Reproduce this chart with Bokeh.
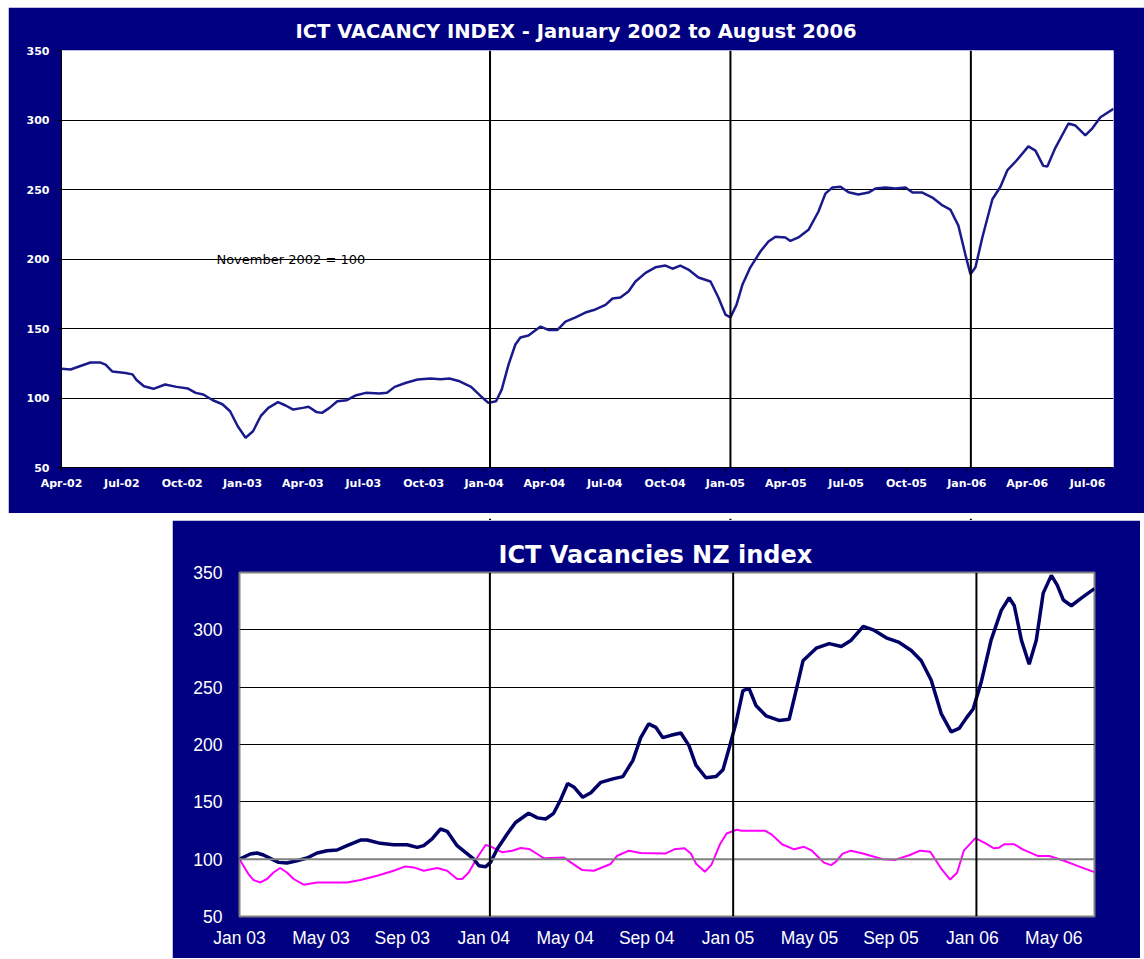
from bokeh.plotting import figure
from bokeh.models import ColumnDataSource, FixedTicker, Label, Span, Spacer
from bokeh.layouts import column, row
from bokeh.embed import file_html
from bokeh.resources import INLINE

# ---------------- data (x = months since January 2002) ----------------
top_title = "ICT VACANCY INDEX  -  January 2002 to August 2006"
top_note = "November 2002 = 100"
top_month = [3.00, 3.45, 3.94, 4.44, 4.94, 5.19, 5.53, 6.18, 6.53, 6.73,
             7.10, 7.57, 8.15, 8.72, 9.29, 9.67, 10.05, 10.52, 11.00, 11.38,
             11.76, 12.15, 12.52, 12.90, 13.28, 13.76, 14.14, 14.52, 14.99, 15.28,
             15.66, 15.95, 16.32, 16.71, 17.18, 17.65, 18.13, 18.80, 19.18, 19.56,
             20.13, 20.70, 21.34, 21.84, 22.28, 22.79, 23.36, 23.84, 24.22, 24.60,
             24.88, 25.22, 25.56, 25.81, 26.21, 26.81, 27.20, 27.65, 28.05, 28.55,
             29.04, 29.54, 30.04, 30.39, 30.78, 31.18, 31.53, 32.03, 32.52, 33.02,
             33.37, 33.76, 34.16, 34.66, 35.26, 35.65, 36.00, 36.25, 36.55, 36.85,
             37.24, 37.74, 38.14, 38.49, 38.98, 39.23, 39.63, 40.13, 40.62, 40.97,
             41.32, 41.72, 42.12, 42.61, 43.11, 43.46, 43.95, 44.45, 44.95, 45.30,
             45.79, 46.29, 46.79, 47.18, 47.58, 47.93, 48.18, 48.43, 48.77, 49.27,
             49.67, 50.02, 50.42, 51.06, 51.41, 51.80, 52.00, 52.40, 53.05, 53.40,
             53.89, 54.24, 54.64, 55.29]
top_index = [121, 120.5, 123, 125.5, 125.5, 124, 119, 118, 117, 113,
             108.5, 106.6, 109.7, 108, 106.8, 103.7, 102.5, 98.4, 95.5, 90.5,
             79.7, 71.4, 76.1, 86.9, 92.9, 97, 94.6, 91.7, 92.9, 93.7,
             90, 89.3, 92.9, 97.7, 98.4, 102, 103.7, 103.2, 103.7, 108,
             111, 113.3, 114, 113.5, 114, 112, 108, 101.3, 96.5, 97.7,
             106, 124, 138.5, 143.5, 145, 151.4, 149, 149, 155, 158,
             161.5, 163.7, 167, 171.6, 172.3, 176.6, 183.8, 190, 194, 195.3,
             193, 195.3, 192.4, 186.7, 183.8, 172.3, 160, 158, 167, 181.7,
             194, 205.4, 212.6, 216, 215.5, 213, 215.5, 221, 234, 247,
             251.5, 252, 248, 246.4, 247.8, 250.7, 251.4, 250.7, 251.4, 247.8,
             247.8, 244.2, 238.5, 235.6, 224, 203, 189, 194, 215.5, 243,
             252, 264, 270, 281, 278, 267, 266.5, 280, 297.5, 296,
             289, 294, 302, 308]
top_tick_months = [3, 6, 9, 12, 15, 18, 21, 24, 27, 30, 33, 36, 39, 42, 45, 48, 51, 54]
top_tick_labels = ["Apr-02", "Jul-02", "Oct-02", "Jan-03", "Apr-03", "Jul-03",
                   "Oct-03", "Jan-04", "Apr-04", "Jul-04", "Oct-04", "Jan-05",
                   "Apr-05", "Jul-05", "Oct-05", "Jan-06", "Apr-06", "Jul-06"]

nz_title = "ICT Vacancies NZ index"
nz_month = [12.00, 12.53, 12.86, 13.18, 13.51, 13.92, 14.33, 14.82, 15.32, 15.81,
            16.30, 16.79, 17.28, 17.94, 18.27, 18.92, 19.57, 20.23, 20.73, 21.05,
            21.46, 21.87, 22.20, 22.69, 23.10, 23.51, 23.76, 24.09, 24.33, 24.66,
            25.15, 25.56, 26.20, 26.64, 27.04, 27.43, 27.78, 28.12, 28.42, 28.86,
            29.26, 29.75, 30.34, 30.83, 31.32, 31.71, 32.10, 32.45, 32.79, 33.19,
            33.68, 34.08, 34.42, 34.91, 35.41, 35.75, 36.04, 36.39, 36.73, 37.03,
            37.37, 37.86, 38.50, 39.00, 39.34, 39.68, 40.33, 40.97, 41.56, 42.05,
            42.64, 43.13, 43.77, 44.41, 45.00, 45.49, 45.98, 46.47, 46.96, 47.35,
            47.70, 48.04, 48.43, 48.92, 49.42, 49.81, 50.06, 50.41, 50.79, 51.14,
            51.48, 51.88, 52.17, 52.47, 52.86, 53.35, 54.00]
nz_ict = [100, 104.5, 105.4, 103.6, 100.7, 97.2, 96.6, 98.6, 101, 105.4,
          107.4, 108, 111.8, 116.7, 116.7, 113.8, 112.6, 112.6, 110.3, 111.8,
          117.6, 126.3, 124.3, 111.8, 106, 100.1, 94.3, 93.4, 97.2, 108.9,
          122, 132, 140, 136, 135, 140, 152, 166, 163, 154,
          158, 167, 170, 172, 186, 206, 218, 215, 206, 208,
          210, 199, 182, 171, 172, 178, 196, 219, 247, 249,
          234, 225, 221, 222, 247, 273, 284, 288, 285.5, 291,
          303, 300, 293, 289, 282, 273, 256, 227, 211, 214,
          223, 231, 254, 291, 317, 328, 321, 291, 270, 291,
          332, 347.5, 339, 326, 321, 327.6, 336]
nz_all_month = [12.00, 12.44, 12.69, 13.02, 13.35, 13.67, 14.00, 14.33, 14.66, 15.15,
                15.81, 17.28, 17.94, 18.76, 19.57, 20.15, 20.56, 21.05, 21.71, 22.20,
                22.69, 22.94, 23.26, 23.68, 24.09, 24.33, 24.91, 25.40, 25.81, 26.22,
                26.63, 26.95, 27.94, 28.27, 28.84, 29.41, 30.23, 30.56, 31.13, 31.71,
                32.94, 33.36, 33.86, 34.17, 34.43, 34.86, 35.18, 35.60, 35.93, 36.42,
                36.67, 37.81, 38.15, 38.65, 39.24, 39.73, 40.12, 40.71, 41.06, 41.30,
                41.63, 42.04, 42.62, 43.61, 44.19, 44.93, 45.43, 45.93, 46.50, 46.91,
                47.25, 47.58, 48.15, 48.65, 49.06, 49.31, 49.56, 50.06, 50.47, 51.21,
                51.78, 52.54, 53.19, 54.00]
nz_all = [100, 87, 81.8, 79.7, 82.7, 88.4, 92.3, 88.4, 82.7, 77.7,
          79.7, 79.7, 81.8, 85.5, 89.9, 93.7, 92.8, 89.9, 92.3, 89.9,
          82.7, 82.7, 88.4, 101.5, 112.4, 111.2, 106, 107.4, 109.7, 108.9,
          104.5, 100.7, 101.5, 97.2, 90.5, 89.9, 95.8, 103, 107.4, 105.4,
          105, 108.6, 109.5, 105, 96, 89, 95, 113, 122.4, 125.7,
          124.8, 124.8, 121.4, 113, 108.6, 110.8, 107.4, 97, 94.8, 97.8,
          104.8, 107.4, 105, 99.9, 99.3, 103.6, 107.4, 106.5, 91, 82.2,
          88.2, 107.4, 118.3, 113.7, 109.5, 110, 113, 113, 108.6, 102.8,
          102.8, 98.4, 93.9, 88.7]
nz_tick_months = [12, 16, 20, 24, 28, 32, 36, 40, 44, 48, 52]
nz_tick_labels = ["Jan 03", "May 03", "Sep 03", "Jan 04", "May 04", "Sep 04",
                  "Jan 05", "May 05", "Sep 05", "Jan 06", "May 06"]
y_ticks = [50, 100, 150, 200, 250, 300, 350]
divider_months = [24.3, 36.25, 48.2]

NAVY = "#000080"

# ---------------- top chart ----------------
top = figure(width=1136, height=506, x_range=(3, 55.29), y_range=(50, 350),
             output_backend="svg", toolbar_location=None,
             min_border_left=53, min_border_right=31, min_border_top=43,
             min_border_bottom=46, title=top_title)
top.border_fill_color = NAVY
top.background_fill_color = "white"
top.outline_line_color = None
top.title.text_color = "white"
top.title.text_font = "DejaVu Sans"
top.title.text_font_style = "bold"
top.title.text_font_size = "19.5px"
top.title.align = "left"
top.title.vertical_align = "top"
top.title.offset = 234
top.title.standoff = 12

for ax in (top.xaxis[0], top.yaxis[0]):
    ax.major_label_text_color = "white"
    ax.major_label_text_font = "DejaVu Sans"
    ax.major_label_text_font_style = "bold"
    ax.major_label_text_font_size = "11px"
    ax.axis_line_color = "black"
    ax.major_tick_line_color = "black"
    ax.major_tick_out = 4
    ax.major_tick_in = 0
    ax.minor_tick_line_color = None
top.xaxis.ticker = FixedTicker(ticks=top_tick_months)
top.xaxis.major_label_overrides = dict(zip(top_tick_months, top_tick_labels))
top.xaxis.major_label_standoff = 5
top.yaxis.ticker = FixedTicker(ticks=y_ticks)
top.yaxis.major_label_standoff = 8
top.xgrid.grid_line_color = None
top.ygrid.ticker = FixedTicker(ticks=y_ticks)
top.ygrid.grid_line_color = "black"
top.ygrid.grid_line_width = 1

src_top = ColumnDataSource(dict(x=top_month, y=top_index))
top.line("x", "y", source=src_top, line_color="#1a1a8c", line_width=2.5)
top.add_layout(Label(x=10.7, y=200, text=top_note, text_font="DejaVu Sans",
                     text_font_size="13px", text_color="black",
                     text_baseline="middle", text_align="left"))

# ---------------- white gap between the panels (same x scale as top) ----------------
gap = figure(width=1136, height=7, x_range=top.x_range, y_range=(0, 1),
             output_backend="svg", toolbar_location=None,
             x_axis_location=None, y_axis_location=None,
             min_border=0, min_border_left=53, min_border_right=31,
             min_border_top=0, min_border_bottom=0)
gap.border_fill_color = "white"
gap.background_fill_color = "white"
gap.outline_line_color = None
gap.grid.grid_line_color = None

# ---------------- bottom chart ----------------
bot = figure(width=968, height=438, x_range=(12, 54), y_range=(50, 350),
             output_backend="svg", toolbar_location=None,
             min_border_left=67, min_border_right=46, min_border_top=52,
             min_border_bottom=42, title=nz_title)
bot.border_fill_color = NAVY
bot.background_fill_color = "white"
bot.outline_line_color = "#808080"
bot.outline_line_width = 2
bot.title.text_color = "white"
bot.title.text_font = "DejaVu Sans"
bot.title.text_font_style = "bold"
bot.title.text_font_size = "24px"
bot.title.align = "left"
bot.title.offset = 259
bot.title.standoff = 8

for ax in (bot.xaxis[0], bot.yaxis[0]):
    ax.major_label_text_color = "white"
    ax.major_label_text_font = "Liberation Sans"
    ax.major_label_text_font_size = "17.5px"
    ax.axis_line_color = None
    ax.major_tick_line_color = None
    ax.minor_tick_line_color = None
bot.xaxis.ticker = FixedTicker(ticks=nz_tick_months)
bot.xaxis.major_label_overrides = dict(zip(nz_tick_months, nz_tick_labels))
bot.xaxis.major_label_standoff = 5
bot.yaxis.ticker = FixedTicker(ticks=y_ticks)
bot.yaxis.major_label_standoff = 11
bot.xgrid.grid_line_color = None
bot.ygrid.ticker = FixedTicker(ticks=[150, 200, 250, 300])
bot.ygrid.grid_line_color = "black"
bot.ygrid.grid_line_width = 1
bot.add_layout(Span(location=100, dimension="width", line_color="#808080", line_width=2))

src_all = ColumnDataSource(dict(x=nz_all_month, y=nz_all))
bot.line("x", "y", source=src_all, line_color="#ff00ff", line_width=2)
src_ict = ColumnDataSource(dict(x=nz_month, y=nz_ict))
bot.line("x", "y", source=src_ict, line_color="#000066", line_width=3.5)

# ---------------- divider lines at the year boundaries ----------------
for m in divider_months:
    for p in (top, gap, bot):
        p.add_layout(Span(location=m, dimension="height", line_color="black",
                          line_width=2, level="overlay"))

layout = column(Spacer(height=7),
                row(Spacer(width=8), top),
                row(Spacer(width=8), gap),
                row(Spacer(width=172), bot))
open("out.html", "w").write(file_html(layout, INLINE))
